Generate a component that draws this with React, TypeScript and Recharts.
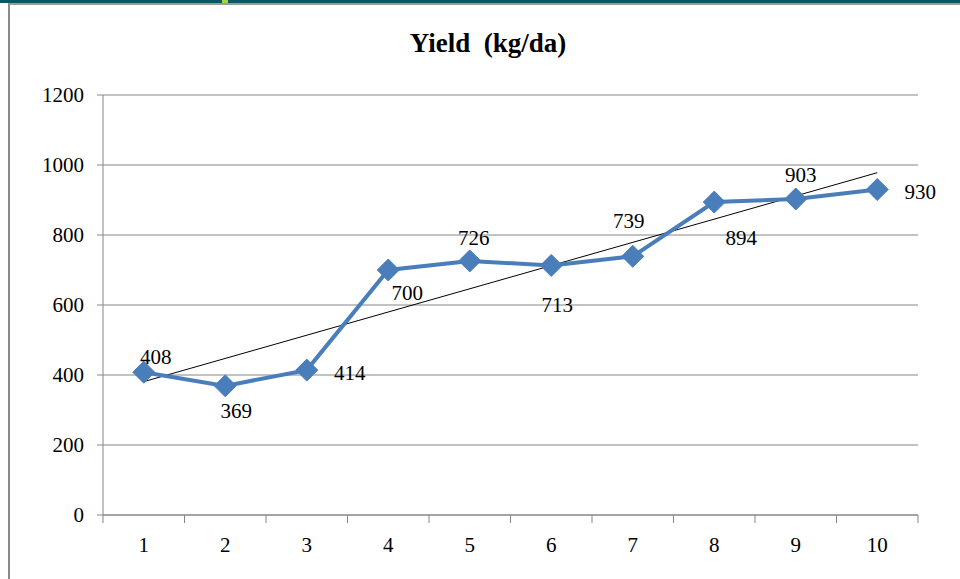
import React from 'react';
import { LineChart, Line, XAxis, YAxis, CartesianGrid, LabelList, ReferenceLine } from 'recharts';

// Yield per trial
const categories = ['1', '2', '3', '4', '5', '6', '7', '8', '9', '10'];
const yieldValues = [408, 369, 414, 700, 726, 713, 739, 894, 903, 930];
const yTicks = [0, 200, 400, 600, 800, 1000, 1200];
// linear trend line ends
const trendStart = 381;
const trendEnd = 978;

// where each value label sits relative to its point (dx, dy)
const labelNudges: [number, number][] = [
  [12, -15], [11, 25], [43, 3], [19, 23], [4, -23],
  [6, 40], [-4, -35], [27, 36], [5, -24], [43, 2],
];

const data = categories.map((c, i) => ({ x: c, y: yieldValues[i] }));

const FONT = '"Liberation Serif", "Times New Roman", serif';
const BLUE = '#4a7ebb';
const GRID = '#868686';
const FS = 21;

const Diamond = (props: any) => {
  const { cx, cy } = props;
  if (cx == null || cy == null) return null;
  const r = 11;
  return (
    <polygon
      points={`${cx},${cy - r} ${cx + r},${cy} ${cx},${cy + r} ${cx - r},${cy}`}
      fill={BLUE}
      stroke={BLUE}
      strokeWidth={1}
    />
  );
};

const XTick = (props: any) => {
  const { x, y, payload } = props;
  const half = payload?.offset || 40.75;
  const isLast = payload?.value === categories[categories.length - 1];
  return (
    <g>
      <line x1={x - half} y1={y} x2={x - half} y2={y + 8} stroke={GRID} />
      {isLast && <line x1={x + half} y1={y} x2={x + half} y2={y + 8} stroke={GRID} />}
      <text x={x} y={y + 37} textAnchor="middle" fontFamily={FONT} fontSize={FS} fill="#000">
        {payload.value}
      </text>
    </g>
  );
};

const ValueLabel = (props: any) => {
  const { x, y, value, index } = props;
  const [dx, dy] = labelNudges[index] || [0, -20];
  return (
    <text
      x={x + dx}
      y={y + dy}
      textAnchor="middle"
      dominantBaseline="central"
      fontFamily={FONT}
      fontSize={FS}
      fill="#000"
    >
      {value}
    </text>
  );
};

export default function App() {
  return (
    <div style={{ position: 'absolute', left: 0, top: 0, width: 960, height: 579, background: '#fff', overflow: 'hidden' }}>
      <div style={{ position: 'absolute', left: 0, top: 0, width: 960, height: 3, background: '#0e5566' }} />
      <div style={{ position: 'absolute', left: 222, top: 0, width: 6, height: 3, background: '#a8d43a' }} />
      <div
        style={{
          position: 'absolute', left: 8, top: 3, width: 960, height: 590,
          borderLeft: '2px solid #8a8a8a', borderTop: '2px solid #9a9a9a',
        }}
      />
      <div
        style={{
          position: 'absolute', left: 0, top: 28, width: 976, textAlign: 'center',
          fontFamily: FONT, fontWeight: 'bold', fontSize: 27, whiteSpace: 'pre', color: '#000',
        }}
      >
        {'Yield  (kg/da)'}
      </div>
      <div style={{ position: 'absolute', left: 0, top: 0 }}>
        <LineChart width={960} height={579} data={data} margin={{ top: 95, right: 42, bottom: 34, left: 0 }}>
          <CartesianGrid vertical={false} stroke={GRID} strokeDasharray="" />
          <XAxis
            dataKey="x"
            type="category"
            scale="band"
            stroke={GRID}
            tickLine={false}
            tickSize={0}
            tickMargin={0}
            height={30}
            interval={0}
            tick={<XTick />}
          />
          <YAxis
            domain={[0, 1200]}
            ticks={yTicks}
            width={103}
            stroke={GRID}
            tickSize={6}
            tickMargin={13}
            interval={0}
            tick={{ fill: '#000', fontFamily: FONT, fontSize: FS }}
          />
          <ReferenceLine
            segment={[{ x: categories[0], y: trendStart }, { x: categories[categories.length - 1], y: trendEnd }]}
            stroke="#000"
            strokeWidth={1}
          />
          <Line
            type="linear"
            dataKey="y"
            stroke={BLUE}
            strokeWidth={4}
            dot={<Diamond />}
            activeDot={false}
            isAnimationActive={false}
          >
            <LabelList dataKey="y" content={<ValueLabel />} />
          </Line>
        </LineChart>
      </div>
    </div>
  );
}
